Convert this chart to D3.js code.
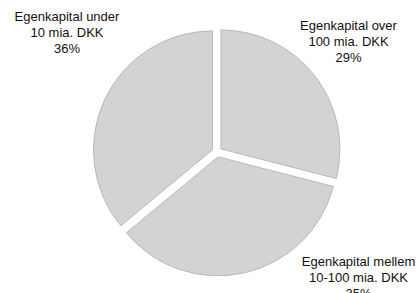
<!DOCTYPE html>
<html>
<head>
<meta charset="utf-8">
<script src="https://cdn.jsdelivr.net/npm/d3@7"></script>
<style>
  body { margin: 0; background: #fff; }
  svg { display: block; }
</style>
</head>
<body>
<div id="root"></div>
<script>
// data
const categories = [
  "Egenkapital over|100 mia. DKK",
  "Egenkapital mellem|10-100 mia. DKK",
  "Egenkapital under|10 mia. DKK",
]
const shares = [29, 35, 36]

function drawPie() {
  const width = 419
  const height = 293
  const cx = 217
  const cy = 152
  const radius = 119
  const explode = 5

  // label anchors relative to pie center (layout, not data)
  const labelAnchors = [
    [131.5, -110],
    [141.5, 126],
    [-150, -119],
  ]

  const data = categories.map((c, i) => ({ label: c, value: shares[i], idx: i }))

  const svg = d3.select("#root").append("svg")
    .attr("width", width)
    .attr("height", height)

  const bounds = svg.append("g")
    .attr("transform", `translate(${cx},${cy})`)

  const pie = d3.pie()
    .value(d => d.value)
    .sort(null)

  const arc = d3.arc()
    .innerRadius(0)
    .outerRadius(radius)

  const arcs = pie(data)

  bounds.selectAll("path")
    .data(arcs)
    .join("path")
    .attr("d", arc)
    .attr("transform", d => {
      const mid = (d.startAngle + d.endAngle) / 2
      return `translate(${Math.sin(mid) * explode},${-Math.cos(mid) * explode})`
    })
    .attr("fill", "#d2d3d4")
    .attr("stroke", "#b8b9ba")
    .attr("stroke-width", 1)

  const labels = bounds.selectAll("text")
    .data(arcs)
    .join("text")
    .attr("transform", (d, i) => `translate(${labelAnchors[i][0]},${labelAnchors[i][1]})`)
    .attr("text-anchor", "middle")
    .style("font-family", "Liberation Sans, Arial, sans-serif")
    .style("font-size", "13px")
    .attr("fill", "#111")

  labels.each(function(d) {
    const lines = d.data.label.split("|").concat([d.data.value + "%"])
    const t = d3.select(this)
    lines.forEach((ln, j) => {
      t.append("tspan")
        .attr("x", 0)
        .attr("y", (j - 1) * 16 + 4)
        .text(ln)
    })
  })
}

drawPie()
</script>
</body>
</html>
